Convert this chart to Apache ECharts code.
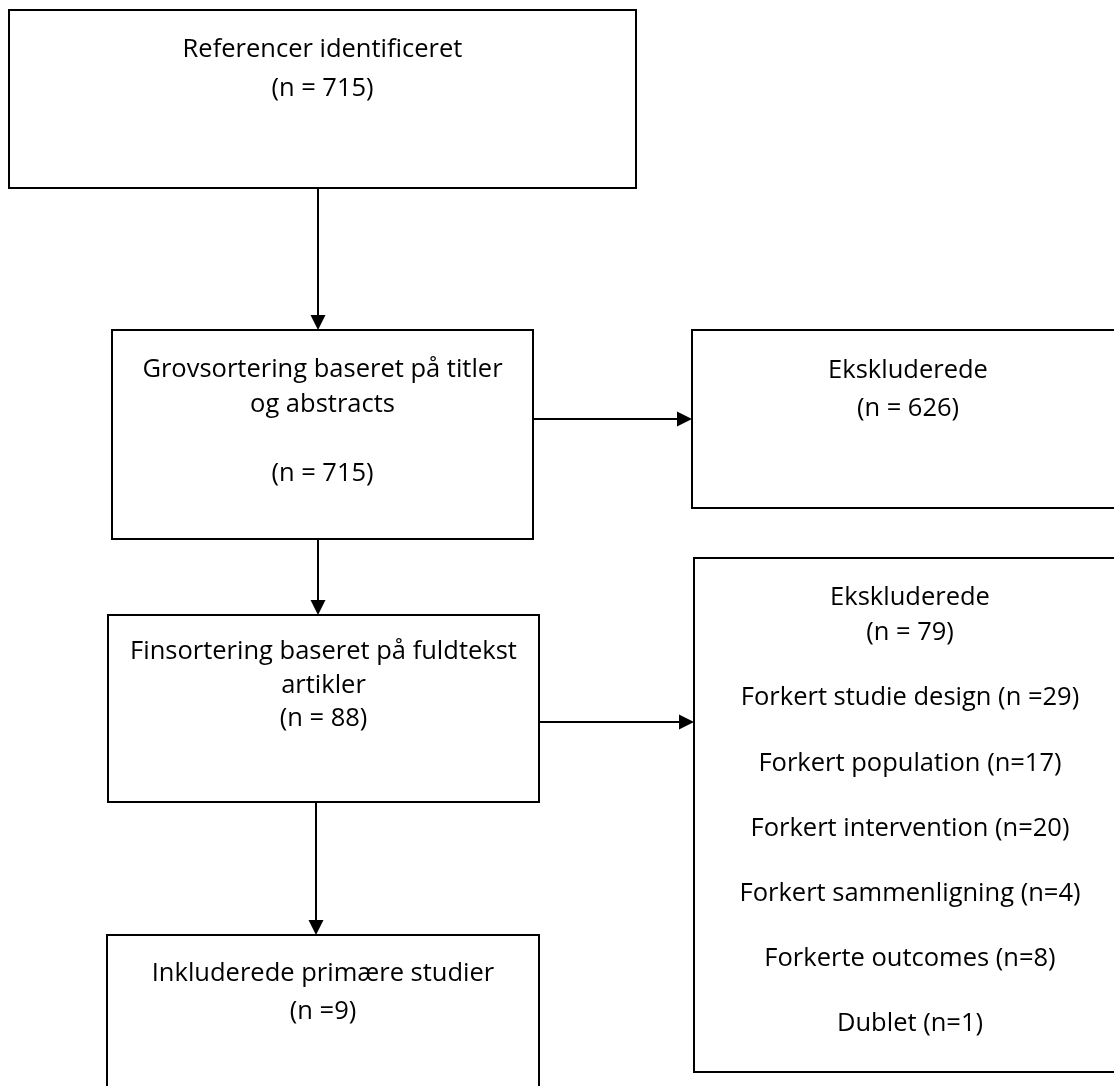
<!DOCTYPE html>
<html><head><meta charset="utf-8">
<script src="https://cdn.jsdelivr.net/npm/echarts@6/dist/echarts.min.js"></script>
<style>html,body{margin:0;padding:0;background:#fff}#c{width:1114px;height:1086px}</style>
</head><body><div id="c"></div>
<script>
// Flow diagram boxes (in diagram units, 1 unit = 1 px of the reference)
const boxNames = ['Referencer', 'Grovsortering', 'Ekskluderede1', 'Finsortering', 'Ekskluderede2', 'Inkluderede'];
const boxLeft   = [9,   112, 692,  108, 694,  107];
const boxTop    = [10,  330, 330,  615, 558,  935];
const boxRight  = [636, 533, 1124, 539, 1126, 539];
const boxBottom = [188, 539, 508,  802, 1072, 1120];
const boxLines = [
  ['Referencer identificeret', '(n = 715)'],
  ['Grovsortering baseret på titler', 'og abstracts', '(n = 715)'],
  ['Ekskluderede', '(n = 626)'],
  ['Finsortering baseret på fuldtekst', 'artikler', '(n = 88)'],
  ['Ekskluderede', '(n = 79)', 'Forkert studie design (n =29)', 'Forkert population (n=17)',
   'Forkert intervention (n=20)', 'Forkert sammenligning (n=4)', 'Forkerte outcomes (n=8)', 'Dublet (n=1)'],
  ['Inkluderede primære studier', '(n =9)']
];
const boxLineY = [
  [50, 89],
  [370, 405, 474],
  [371, 409],
  [652, 686, 719],
  [598, 633, 698, 764, 829, 894, 959, 1024],
  [974, 1012]
];
// Arrows: start and end points
const arrowX0 = [318, 318, 316, 533, 539];
const arrowY0 = [188, 539, 803, 419, 722];
const arrowX1 = [318, 318, 316, 692, 694];
const arrowY1 = [330, 615, 935, 419, 722];

const FONT = '"Open Sans", "Noto Sans", sans-serif';
const chart = echarts.init(document.getElementById('c'));
const boxData = boxLeft.map((l, i) => [l, boxTop[i], boxRight[i], boxBottom[i], i]);
const arrowData = arrowX0.map((x, i) => [x, arrowY0[i], arrowX1[i], arrowY1[i], i]);

chart.setOption({
  animation: false,
  backgroundColor: '#fff',
  grid: {left: 0, right: 0, top: 0, bottom: 0},
  xAxis: {type: 'value', min: 0, max: 1114, show: false},
  yAxis: {type: 'value', min: 0, max: 1086, inverse: true, show: false},
  series: [
    {
      type: 'custom',
      coordinateSystem: 'cartesian2d',
      encode: {x: [0, 2], y: [1, 3]},
      data: boxData,
      renderItem: function (params, api) {
        const i = api.value(4);
        const p0 = api.coord([api.value(0), api.value(1)]);
        const p1 = api.coord([api.value(2), api.value(3)]);
        const cx = (p0[0] + p1[0]) / 2;
        const children = [{
          type: 'rect',
          shape: {x: p0[0], y: p0[1], width: p1[0] - p0[0], height: p1[1] - p0[1]},
          style: {fill: '#fff', stroke: '#000', lineWidth: 2}
        }];
        boxLines[i].forEach((t, k) => {
          const py = api.coord([0, boxLineY[i][k]])[1];
          children.push({
            type: 'text',
            style: {x: cx, y: py, text: t, fill: '#000', font: '25.5px ' + FONT,
                    textAlign: 'center', textVerticalAlign: 'middle'}
          });
        });
        return {type: 'group', children: children};
      }
    },
    {
      type: 'custom',
      coordinateSystem: 'cartesian2d',
      encode: {x: [0, 2], y: [1, 3]},
      data: arrowData,
      renderItem: function (params, api) {
        const a = api.coord([api.value(0), api.value(1)]);
        const b = api.coord([api.value(2), api.value(3)]);
        const dx = b[0] - a[0], dy = b[1] - a[1];
        const len = Math.sqrt(dx * dx + dy * dy);
        const ux = dx / len, uy = dy / len;
        const hl = 15, hw = 7.5;
        const bx = b[0] - ux * hl, by = b[1] - uy * hl;
        return {
          type: 'group',
          children: [
            {type: 'line', shape: {x1: a[0], y1: a[1], x2: bx, y2: by},
             style: {stroke: '#000', lineWidth: 2}},
            {type: 'polygon', shape: {points: [[b[0], b[1]], [bx - uy * hw, by + ux * hw], [bx + uy * hw, by - ux * hw]]},
             style: {fill: '#000'}}
          ]
        };
      }
    }
  ]
});
</script>
</body></html>
